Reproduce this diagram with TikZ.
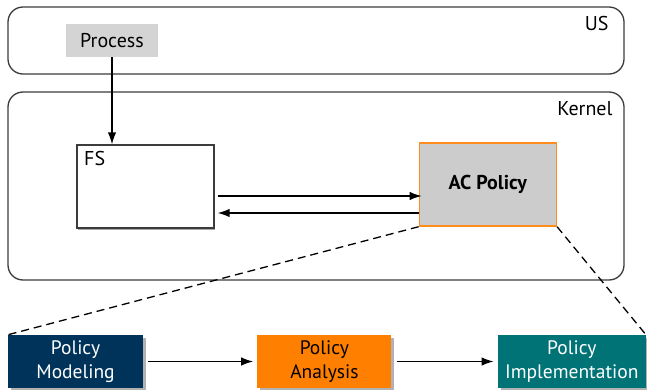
\documentclass[tikz,border=0pt]{standalone}
\usepackage{fontspec}
\setmainfont{PT Sans}
\usetikzlibrary{positioning}
\usetikzlibrary{arrows.meta}
\usetikzlibrary{shadows}

\definecolor{navyfill}{RGB}{0,51,89}
\definecolor{orangefill}{RGB}{255,127,0}
\definecolor{tealfill}{RGB}{0,115,119}
\definecolor{procgray}{RGB}{212,212,212}
\definecolor{acgray}{RGB}{204,204,204}
\definecolor{acorange}{RGB}{255,140,30}
\definecolor{linegray}{RGB}{60,60,60}

\tikzset{
    every node/.style={font=\fontsize{20}{24}\selectfont},
    zone/.style={draw=linegray,line width=1.3pt,rounded corners=15pt,inner sep=0pt},
    plainbox/.style={draw=linegray,line width=1.3pt,fill=white,inner sep=0pt},
    stage/.style={
        inner sep=0pt,minimum width=135pt,minimum height=53pt,
        align=center,font=\fontsize{19.5}{24}\selectfont,
        drop shadow={shadow xshift=3pt,shadow yshift=-3pt,fill=black!30,opacity=1}},
    flow/.style={draw=black,line width=1.4pt,-{Latex[length=12pt,width=8.5pt]}},
    dashlink/.style={draw=black,line width=1.3pt,dash pattern=on 8pt off 5pt},
}

\begin{document}
\begin{tikzpicture}[x=1pt,y=-1pt]
    \useasboundingbox (0,0) rectangle (647,390);

    % user space and kernel
    \node[zone,minimum width=616pt,minimum height=67pt] (us) at (316,40.5) {};
    \node[anchor=base east] (uslabel) at (612,31) {US};
    \node[zone,minimum width=616pt,minimum height=188pt] (kernel) at (316,186) {};
    \node[anchor=base east] (kernellabel) at (616,116) {Kernel};

    \node[
        fill=procgray,
        inner sep=0pt,minimum width=92pt,minimum height=33pt] (proc) at (112,40.5) {Process};

    \node[
        plainbox,
        minimum width=137pt,minimum height=83pt,
        drop shadow={shadow xshift=1pt,shadow yshift=-1.5pt,fill=black!35,opacity=1}] (fs) at (145.5,186.5) {};
    \node[anchor=north west,inner sep=0pt] (fslabel) at (84,151) {FS};

    \node[
        draw=acorange,fill=acgray,line width=1.4pt,
        inner sep=0pt,minimum width=137pt,minimum height=83pt,
        font=\fontsize{20}{24}\selectfont\bfseries] (ac) [right=204pt of fs,yshift=2pt] {AC Policy};

    % policy life cycle
    \node[stage,fill=navyfill,text=white] (model) at (75.5,361.5) {Policy\\Modeling};
    \node[stage,fill=orangefill,text=black,minimum width=134pt] (ana) [right=114pt of model] {Policy\\Analysis};
    \node[stage,fill=tealfill,text=white,minimum width=148pt] (impl) [right=106pt of ana] {Policy\\Implementation};

    \draw[flow] (proc.south) -- (proc.south |- fs.north);
    \draw[flow] ([xshift=3pt,yshift=-9.5pt]fs.east) -- ([xshift=3pt,yshift=-9.5pt]fs.east -| ac.west);
    \draw[flow] ([yshift=-26.5pt]fs.east -| ac.west) -- ([xshift=3pt,yshift=-26.5pt]fs.east);

    \draw[dashlink] (ac.south west) -- (model.north west);
    \draw[dashlink] (ac.south east) -- (impl.north east);

    \draw[flow] ([xshift=5pt]model.east) -- ([xshift=-4pt]ana.west);
    \draw[flow] ([xshift=5pt]ana.east) -- ([xshift=-4pt]impl.west);

\end{tikzpicture}
\end{document}
